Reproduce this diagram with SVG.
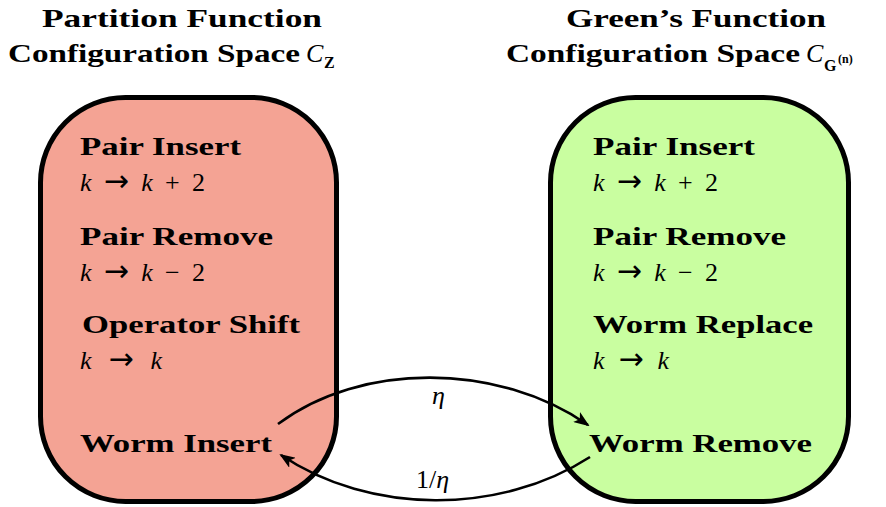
<svg xmlns="http://www.w3.org/2000/svg" width="886" height="507" viewBox="0 0 886 507">
  <style>
    .title { font-family: "Liberation Serif", "DejaVu Serif", serif; font-weight: bold; font-size: 25px; fill: #000; }
    .op { font-family: "Liberation Serif", "DejaVu Serif", serif; font-weight: bold; font-size: 25px; fill: #000; }
    .math { font-family: "Liberation Serif", "DejaVu Serif", serif; font-style: italic; font-size: 26px; fill: #000; }
    .rm { font-style: normal; }
    .arr { font-style: normal; font-family: "DejaVu Sans", sans-serif; font-size: 30px; }
    .sub { font-family: "Liberation Serif", "DejaVu Serif", serif; font-weight: bold; fill: #000; }
    .box { stroke: #000; stroke-width: 5; }
    .edge { fill: none; stroke: #000; stroke-width: 2.6; }
  </style>
  <defs>
    <marker id="head" viewBox="0 0 16 12" refX="14" refY="6" markerWidth="16" markerHeight="12" markerUnits="userSpaceOnUse" orient="auto">
      <path d="M0,0 L16,6 L0,12 L4,6 Z" fill="#000"/>
    </marker>
  </defs>

  <!-- column headings -->
  <g id="title-z">
    <text class="title" x="42" y="27" textLength="280" lengthAdjust="spacingAndGlyphs">Partition Function</text>
    <text class="title" x="8" y="62" textLength="292" lengthAdjust="spacingAndGlyphs">Configuration Space</text>
    <text class="math" x="306" y="62">C</text>
    <text class="sub" x="324" y="68" font-size="16">Z</text>
  </g>
  <g id="title-g">
    <text class="title" x="566" y="27" textLength="260" lengthAdjust="spacingAndGlyphs">Green’s Function</text>
    <text class="title" x="506" y="62" textLength="294" lengthAdjust="spacingAndGlyphs">Configuration Space</text>
    <text class="math" x="806" y="62">C</text>
    <text class="sub" x="824" y="71" font-size="16">G</text>
    <text class="sub" x="838" y="63" font-size="12">(n)</text>
  </g>

  <!-- partition function sector -->
  <g id="sector-z">
    <rect class="box" x="40.5" y="97.5" width="296" height="404" rx="85" ry="85" fill="#f4a394"/>
    <text class="op" x="80" y="155" textLength="161" lengthAdjust="spacingAndGlyphs">Pair Insert</text>
    <text class="math" x="80" y="191" textLength="125" lengthAdjust="spacing">k <tspan class="arr">→</tspan> k <tspan class="rm">+ 2</tspan></text>
    <text class="op" x="80" y="245" textLength="193" lengthAdjust="spacingAndGlyphs">Pair Remove</text>
    <text class="math" x="80" y="281" textLength="125" lengthAdjust="spacing">k <tspan class="arr">→</tspan> k <tspan class="rm">− 2</tspan></text>
    <text class="op" x="82" y="333" textLength="218" lengthAdjust="spacingAndGlyphs">Operator Shift</text>
    <text class="math" x="80" y="369" textLength="82" lengthAdjust="spacing">k <tspan class="arr">→</tspan> k</text>
    <text class="op" x="80" y="452" textLength="192" lengthAdjust="spacingAndGlyphs">Worm Insert</text>
  </g>

  <!-- Green's function sector -->
  <g id="sector-g">
    <rect class="box" x="550.5" y="97.5" width="298" height="404" rx="85" ry="85" fill="#c9fea0"/>
    <text class="op" x="593" y="155" textLength="162" lengthAdjust="spacingAndGlyphs">Pair Insert</text>
    <text class="math" x="593" y="191" textLength="125" lengthAdjust="spacing">k <tspan class="arr">→</tspan> k <tspan class="rm">+ 2</tspan></text>
    <text class="op" x="593" y="245" textLength="193" lengthAdjust="spacingAndGlyphs">Pair Remove</text>
    <text class="math" x="593" y="281" textLength="125" lengthAdjust="spacing">k <tspan class="arr">→</tspan> k <tspan class="rm">− 2</tspan></text>
    <text class="op" x="593" y="333" textLength="220" lengthAdjust="spacingAndGlyphs">Worm Replace</text>
    <text class="math" x="593" y="369" textLength="76" lengthAdjust="spacing">k <tspan class="arr">→</tspan> k</text>
    <text class="op" x="589" y="452" textLength="223" lengthAdjust="spacingAndGlyphs">Worm Remove</text>
  </g>

  <!-- transitions between sectors -->
  <g id="connectors">
    <path class="edge" d="M278,424 C360,362 498,362 588,425" marker-end="url(#head)"/>
    <text class="math" x="432" y="404">η</text>
    <path class="edge" d="M590,457 C500,515 370,515 281,455" marker-end="url(#head)"/>
    <text class="math" x="416" y="488"><tspan class="rm">1/</tspan>η</text>
  </g>
</svg>
